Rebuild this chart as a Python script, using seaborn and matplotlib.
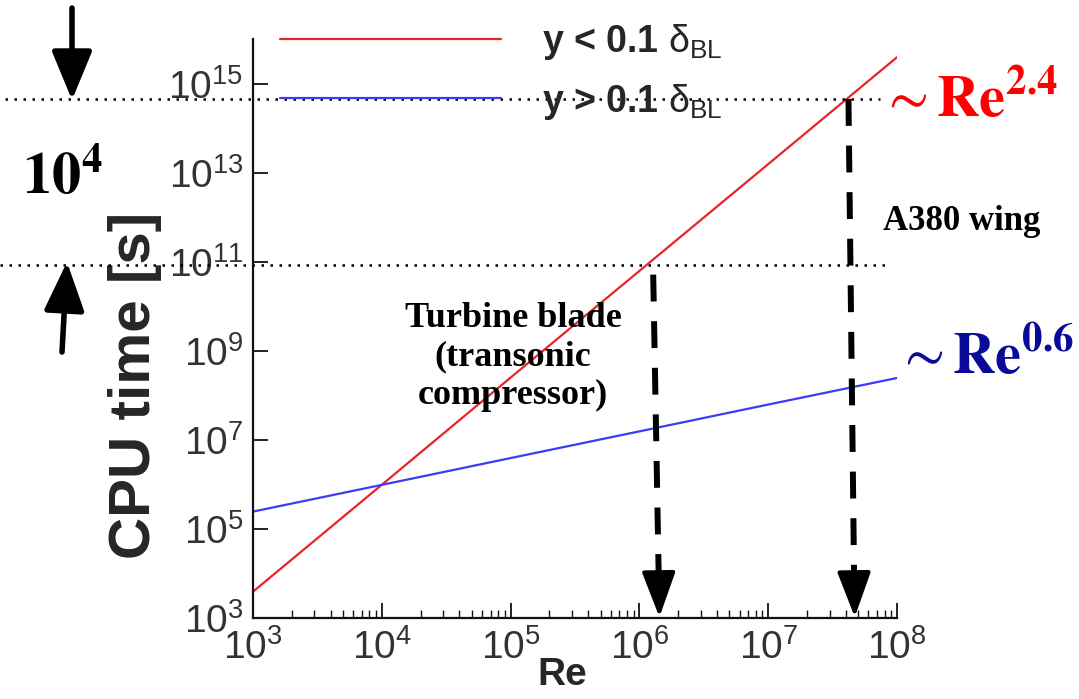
import numpy as np
import pandas as pd
import matplotlib
matplotlib.use("Agg")
import matplotlib.pyplot as plt
import seaborn as sns
from matplotlib.lines import Line2D
from matplotlib.patches import FancyArrowPatch
from matplotlib.ticker import LogLocator, LogFormatterSciNotation, FixedLocator

# ---------------- data ----------------
reynolds = [1e3, 1e4, 1e5, 1e6, 1e7, 1e8]
cpu_wall = [3.9e3, 9.8e5, 2.5e8, 6.2e10, 1.55e13, 3.9e15]      # y < 0.1 delta_BL  (~Re^2.4)
cpu_outer = [2.45e5, 9.75e5, 3.9e6, 1.55e7, 6.2e7, 2.45e8]     # y > 0.1 delta_BL  (~Re^0.6)
series_labels = [r"y < 0.1 $\delta_{\mathrm{BL}}$", r"y > 0.1 $\delta_{\mathrm{BL}}$"]
series_colors = ["#e8242a", "#3c3cf5"]

x_ticks = [1e3, 1e4, 1e5, 1e6, 1e7, 1e8]
y_ticks = [1e3, 1e5, 1e7, 1e9, 1e11, 1e13, 1e15]

# annotation points (Re, CPU time)
blade_re_top, blade_re_tip, blade_cost = 1.28e6, 1.43e6, 8.5e10
wing_re_top, wing_re_tip, wing_cost = 4.2e7, 4.7e7, 4.5e14

df = pd.DataFrame({
    "Re": reynolds * 2,
    "cpu": cpu_wall + cpu_outer,
    "regime": [series_labels[0]] * len(reynolds) + [series_labels[1]] * len(reynolds),
})

# ---------------- style ----------------
sns.set_style("ticks")
plt.rcParams["font.family"] = ["Liberation Sans", "DejaVu Sans"]
plt.rcParams["mathtext.fontset"] = "custom"
plt.rcParams["mathtext.rm"] = "Liberation Sans"
plt.rcParams["mathtext.it"] = "Liberation Sans"
plt.rcParams["mathtext.bf"] = "Liberation Sans:bold"

W, H = 1079, 699
fig = plt.figure(figsize=(W / 100, H / 100), dpi=100)

def fx(x):
    return x / W

def fy(y):
    return 1 - y / H

AX_L, AX_R, AX_T, AX_B = 253, 897, 39, 618
ax = fig.add_axes([fx(AX_L), fy(AX_B), (AX_R - AX_L) / W, (AX_B - AX_T) / H])

sns.lineplot(data=df, x="Re", y="cpu", hue="regime", palette=series_colors,
             hue_order=series_labels, linewidth=1.6, ax=ax, legend=False)

ax.set_xscale("log")
ax.set_yscale("log")
ax.set_xlim(1e3, 1e8)
ax.set_ylim(1e3, 1e16)

sns.despine(ax=ax)
for s in ["left", "bottom"]:
    ax.spines[s].set_linewidth(1.6)
    ax.spines[s].set_color("#111111")

ax.xaxis.set_major_locator(FixedLocator(x_ticks))
ax.xaxis.set_minor_locator(LogLocator(base=10, subs=np.arange(2, 10), numticks=20))
ax.yaxis.set_major_locator(FixedLocator(y_ticks))
ax.yaxis.set_minor_locator(FixedLocator([]))
ax.xaxis.set_major_formatter(LogFormatterSciNotation())
ax.yaxis.set_major_formatter(LogFormatterSciNotation())

ax.tick_params(axis="both", which="major", direction="in", length=11, width=1.3,
               labelsize=28, labelcolor="#333333", color="#111111")
ax.tick_params(axis="x", which="major", pad=8)
ax.tick_params(axis="y", which="major", pad=7)
ax.tick_params(axis="x", which="minor", direction="in", length=5.5, width=1.0, color="#111111")

ax.set_xlabel("Re", fontsize=28, fontweight="bold")
ax.xaxis.set_label_coords((562 - AX_L) / (AX_R - AX_L), -(657 - AX_B) / (AX_B - AX_T))
ax.set_ylabel("CPU time [s]", fontsize=42, fontweight="bold")
ax.yaxis.set_label_coords(-(AX_L - 162) / (AX_R - AX_L), (AX_B - 385) / (AX_B - AX_T))

# legend
handles = [Line2D([], [], color=c, lw=1.6) for c in series_colors]
leg = fig.legend(handles, series_labels, loc="upper left",
                 bbox_to_anchor=(fx(280), fy(22)), frameon=False,
                 prop={"family": "Liberation Sans", "weight": "bold", "size": 27},
                 handlelength=5.9, handletextpad=1.1, labelspacing=0.52,
                 borderpad=0, borderaxespad=0)

# dotted reference levels
dot = dict(color="black", lw=1.8, linestyle=(0, (1, 2.6)), clip_on=False)
ax.axhline(wing_cost, xmin=(5 - AX_L) / (AX_R - AX_L), xmax=(880 - AX_L) / (AX_R - AX_L), **dot)
ax.axhline(blade_cost, xmin=(0 - AX_L) / (AX_R - AX_L), xmax=(885 - AX_L) / (AX_R - AX_L), **dot)

# dashed vertical arrows
for re_top, re_tip, c_top in [(blade_re_top, blade_re_tip, blade_cost / 10 ** 0.22),
                              (wing_re_top, wing_re_tip, wing_cost)]:
    re_mid = re_top * (re_tip / re_top) ** 0.9
    ax.plot([re_top, re_mid], [c_top, 1e3 * 10 ** 0.85], color="black", lw=4.3,
            linestyle=(0, (4.5, 3.3)), clip_on=False,
            dash_capstyle="butt", solid_capstyle="butt")
    ax.annotate("", xy=(re_tip, 1e3 * 10 ** 0.02), xytext=(re_mid, 1e3 * 10 ** 0.9),
                arrowprops=dict(arrowstyle="-|>,head_length=1.4,head_width=0.52",
                                color="black", lw=3, mutation_scale=20,
                                shrinkA=0, shrinkB=0))

# solid arrows at left (figure coordinates)
arrow_kw = dict(arrowstyle="-|>,head_length=1.5,head_width=0.62", color="black",
                lw=4, mutation_scale=20, shrinkA=0, shrinkB=0)
fig.add_artist(FancyArrowPatch((fx(72), fy(8)), (fx(72), fy(100)),
                               transform=fig.transFigure, **arrow_kw))
fig.add_artist(FancyArrowPatch((fx(62), fy(352)), (fx(67), fy(262)),
                               transform=fig.transFigure, **arrow_kw))

# texts
fig.text(fx(22), fy(178), r"$\mathbf{10^{4}}$", math_fontfamily="stix",
         fontsize=42, ha="left", va="center", color="black")
fig.text(fx(880), fy(100), r"$\sim\mathbf{Re^{2.4}}$", math_fontfamily="stix",
         fontsize=42, ha="left", va="center", color="#ff0000")
fig.text(fx(896), fy(357), r"$\sim\mathbf{Re^{0.6}}$", math_fontfamily="stix",
         fontsize=42, ha="left", va="center", color="#0a0a99")
fig.text(fx(962), fy(222), "A380 wing", family="Liberation Serif", weight="bold",
         fontsize=25, ha="center", va="center", color="black")
fig.text(fx(513), fy(357), "Turbine blade\n(transonic\ncompressor)",
         family="Liberation Serif", weight="bold", fontsize=26, ha="center",
         va="center", linespacing=1.2, color="black")

fig.savefig("out.png", dpi=100)
